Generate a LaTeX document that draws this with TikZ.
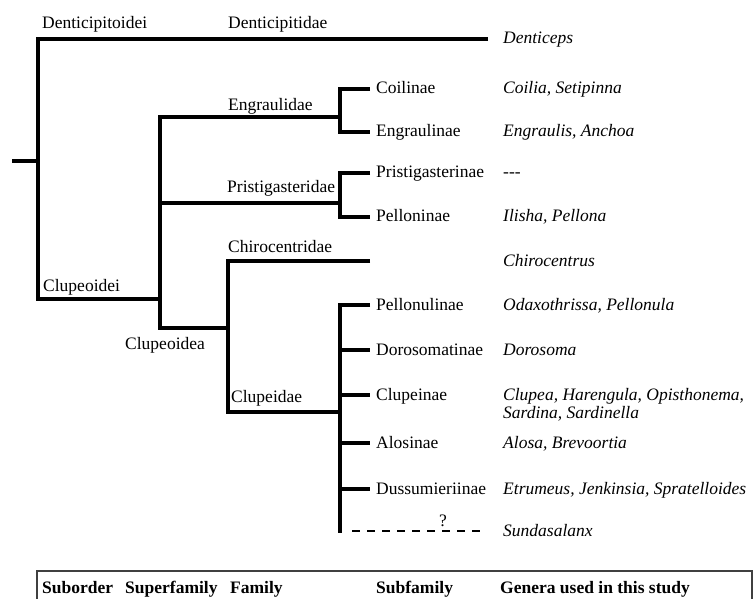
\documentclass[tikz,border=0pt]{standalone}
\usepackage{fontspec}
\setmainfont{Liberation Serif}
\usetikzlibrary{positioning}

\begin{document}
\begin{tikzpicture}[x=1pt, y=-1pt,
  every node/.style={font=\fontsize{17.5}{22}\selectfont, inner sep=0pt, anchor=base west},
  branch/.style={line width=3.5pt},
  genus/.style={font=\fontsize{17.5}{18}\selectfont\itshape},
  head/.style={font=\fontsize{17.5}{22}\selectfont\bfseries}]

\useasboundingbox (0,0) rectangle (756,599);

% branch points
\coordinate (root) at (12,161);
\coordinate (n0) at (38,161);
\coordinate (n1) at (160,299);
\coordinate (n2) at (228,328);
\coordinate (engr) at (340,117);
\coordinate (prist) at (340,203);
\coordinate (clup) at (340,412);
\coordinate (sx) at (376,0);
\coordinate (gx) at (503,0);

% tips of the branches
\foreach \name/\x/\y in {dent/488/39, coil/370/89, engl/370/132, pris/370/173, pell/370/217,
    chiro/370/261, pellu/370/305, doro/370/350, clupe/370/395, alos/370/443, dussu/370/489, sunda/484/531}
  \coordinate (t-\name) at (\x,\y);

\draw[branch] (root) -- (n0);
\draw[branch] (t-dent) -| (n0) |- (n1);
\draw[branch] (engr) -| (n1) |- (n2);
\draw[branch] (n1 |- prist) -- (prist);
\draw[branch] (t-coil) -| (engr) |- (t-engl);
\draw[branch] (t-pris) -| (prist) |- (t-pell);
\draw[branch] (t-chiro) -| (n2) |- (clup);
\draw[branch] (t-pellu) -| (clup) -- ([yshift=-1.5pt]clup |- t-sunda);
\foreach \t in {doro,clupe,alos,dussu}
  \draw[branch] (clup |- t-\t) -- (t-\t);
\draw[branch, line width=2.5pt, dash pattern=on 8pt off 7pt, dash phase=8pt, shorten <=5pt]
  (clup |- t-sunda) -- (t-sunda);
\node[anchor=base] (qm) at (443,526) {?};

% higher taxa
\node (l-dtoid) at (42,29) {Denticipitoidei};
\node (l-dtid) at (228,29) {Denticipitidae};
\node (l-engr) at (228,111) {Engraulidae};
\node (l-pris) at (227,193) {Pristigasteridae};
\node (l-chiro) at (228,252) {Chirocentridae};
\node (l-cldei) at (43,291) {Clupeoidei};
\node (l-cldea) at (125,349) {Clupeoidea};
\node (l-clup) at (231,402) {Clupeidae};

% subfamilies and genera
\foreach \name/\sub in {coil/Coilinae, engl/Engraulinae, pris/Pristigasterinae, pell/Pelloninae,
    pellu/Pellonulinae, doro/Dorosomatinae, clupe/Clupeinae, alos/Alosinae, dussu/Dussumieriinae}
  \node (s-\name) at ([yshift=-5pt]sx |- t-\name) {\sub};
\foreach \name/\gen in {dent/Denticeps, coil/{Coilia, Setipinna}, engl/{Engraulis, Anchoa}, pris/{-}{-}{-},
    pell/{Ilisha, Pellona}, chiro/Chirocentrus, pellu/{Odaxothrissa, Pellonula}, doro/Dorosoma,
    clupe/{\vtop{\baselineskip=18pt\hbox{Clupea, Harengula, Opisthonema,}\hbox{Sardina, Sardinella}}},
    alos/{Alosa, Brevoortia}, dussu/{Etrumeus, Jenkinsia, Spratelloides}, sunda/Sundasalanx}
  \node[genus] (g-\name) at ([yshift=-5pt]gx |- t-\name) {\gen};

% key
\draw[line width=1.2pt, black!75] (37,610) |- (752,571) -- (752,610);
\foreach \x/\h in {42/Suborder, 125/Superfamily, 230/Family, 376/Subfamily, 500/Genera used in this study}
  \node[head] (h-\x) at (\x,593) {\h};

\end{tikzpicture}
\end{document}
